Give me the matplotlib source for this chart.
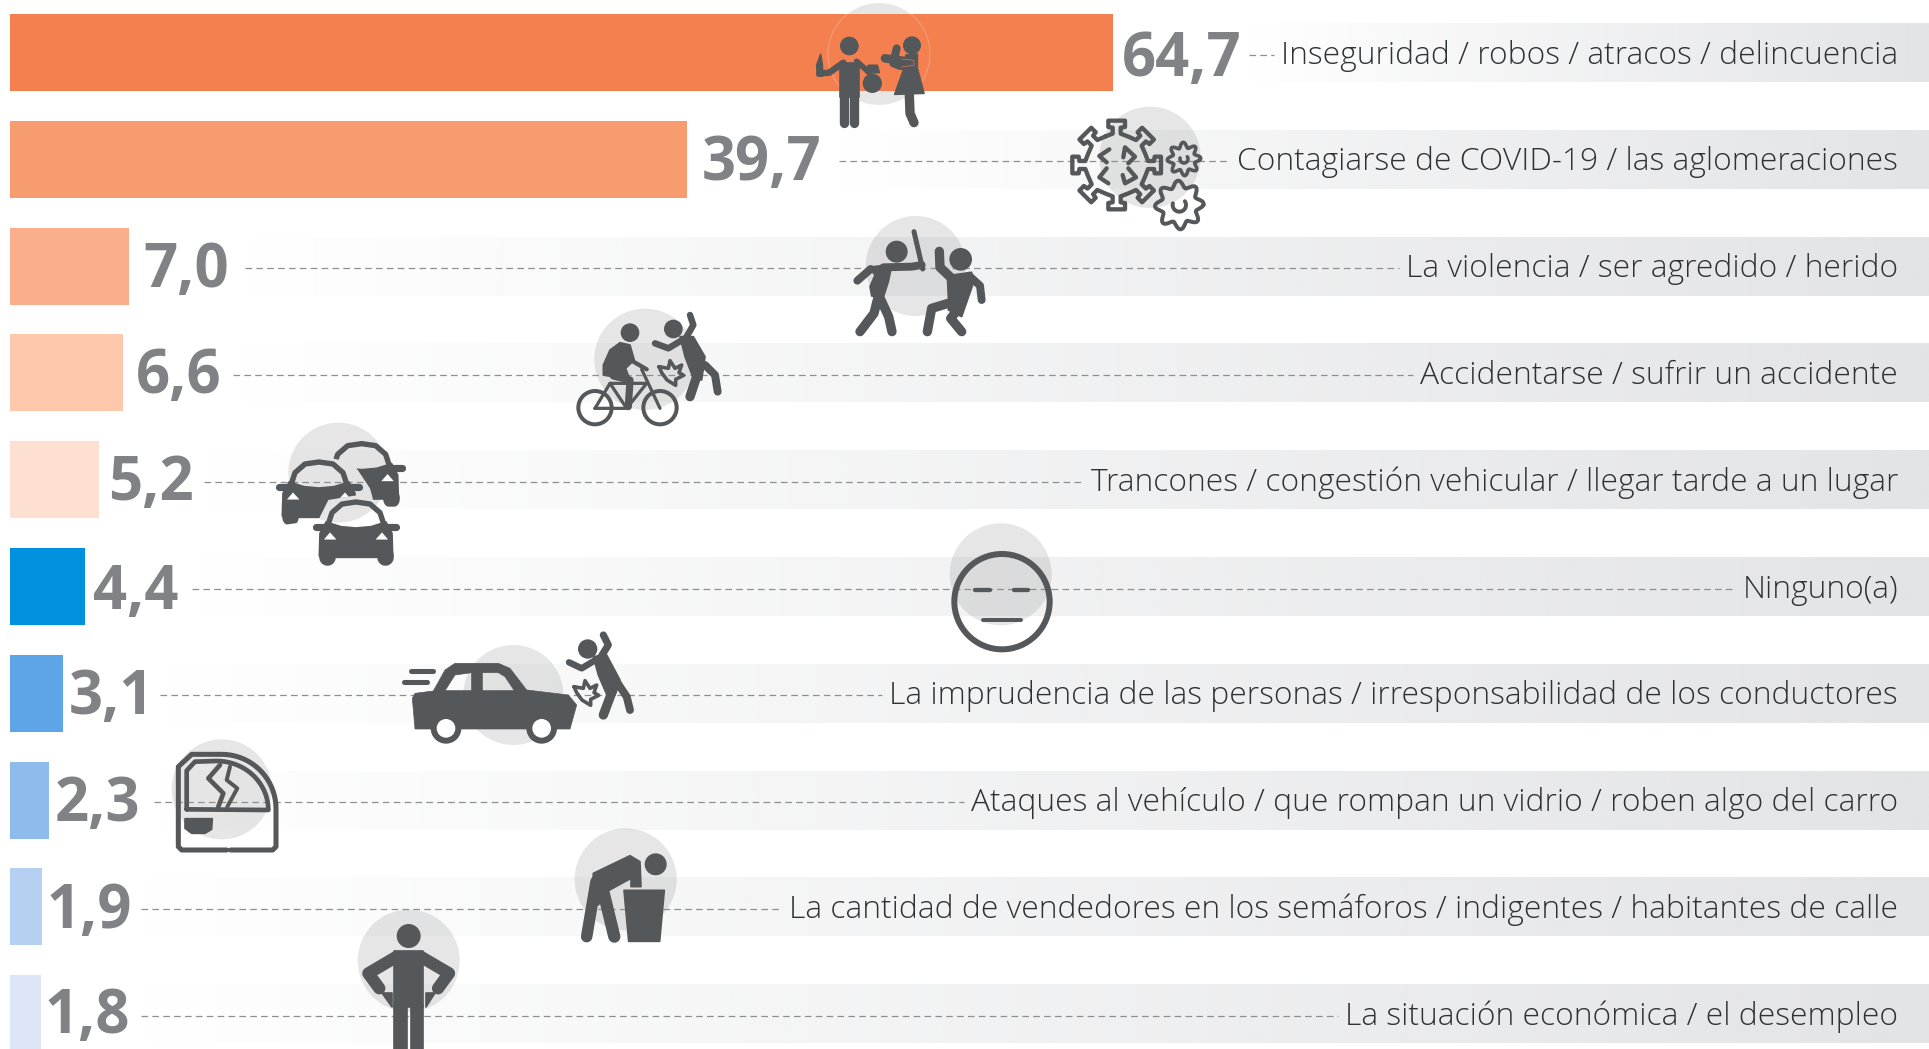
import matplotlib
matplotlib.use('Agg')
import matplotlib.pyplot as plt
import numpy as np
from matplotlib.patches import Circle, PathPatch
from matplotlib.path import Path

# ---- data ----
labels = [
    'Inseguridad / robos / atracos / delincuencia',
    'Contagiarse de COVID-19 / las aglomeraciones',
    'La violencia / ser agredido / herido',
    'Accidentarse / sufrir un accidente',
    'Trancones / congestión vehicular / llegar tarde a un lugar',
    'Ninguno(a)',
    'La imprudencia de las personas / irresponsabilidad de los conductores',
    'Ataques al vehículo / que rompan un vidrio / roben algo del carro',
    'La cantidad de vendedores en los semáforos / indigentes / habitantes de calle',
    'La situación económica / el desempleo',
]
values = [64.7, 39.7, 7.0, 6.6, 5.2, 4.4, 3.1, 2.3, 1.9, 1.8]
colors = ['#f5804f', '#f79c6f', '#fbae8b', '#fdc8ab', '#fee0d0',
          '#0091de', '#5da5e6', '#8fbbec', '#b6d0f1', '#dde6f9']
rows = list(range(len(values)))
leader_start = [1249, 839, 245, 233, 204, 192, 160, 154, 141, 141]
value_dx = [9, 15, 14, 13, 9, 8, 6, 6, 4, 4]
value_dy = [24, 21, 21, 20, 20, 23, 21, 21, 21, 19]

W, H = 1929, 1049
DARK = '#54585a'
PX = 0.72  # px -> pt at dpi 100
X0, PX_UNIT = 10, 17.05
Y0, ROW = 52.5, 106.8

plt.rcParams['font.family'] = ['Open Sans', 'DejaVu Sans']

fig = plt.figure(figsize=(W / 100, H / 100), dpi=100, facecolor='white')


def pixel_axes(z):
    a = fig.add_axes([0, 0, 1, 1], zorder=z)
    a.set_xlim(0, W)
    a.set_ylim(H, 0)
    a.axis('off')
    a.patch.set_alpha(0)
    return a


ax_bg = pixel_axes(0)
ax_bar = fig.add_axes([0, 0, 1, 1], zorder=1)
ax_bar.set_xlim(-X0 / PX_UNIT, (W - X0) / PX_UNIT)
ax_bar.set_ylim((H - Y0) / ROW, -Y0 / ROW)
ax_bar.axis('off')
ax_bar.patch.set_alpha(0)
ax = pixel_axes(2)


class Icon:
    """Pictogram drawn in the 3x coordinates of a crop at (ox, oy)."""

    def __init__(self, ox, oy):
        self.ox, self.oy = ox, oy

    def xy(self, pts):
        p = np.asarray(pts, dtype=float)
        return p / 3 + [self.ox, self.oy]

    def halo(self, x, y, r):
        cx, cy = self.xy([(x, y)])[0]
        ax_bg.add_patch(Circle((cx, cy), r / 3, fc='#58595b', ec='none', alpha=0.15, zorder=2))

    def line(self, pts, lw, color=DARK, cap='round'):
        p = self.xy(pts)
        return ax.plot(p[:, 0], p[:, 1], color=color, lw=lw * 1.08 / 3 * PX, solid_capstyle=cap,
                       solid_joinstyle='round', zorder=5)[0]

    def poly(self, pts, color=DARK, lw=5):
        p = self.xy(pts)
        patch = PathPatch(Path(np.vstack([p, p[0]]), closed=True), fc=color, ec=color,
                          lw=lw / 3 * PX, joinstyle='round', zorder=5)
        ax.add_patch(patch)
        return patch

    def holes(self, outer, inner):
        # even-odd is not available, so the holes run the other way round
        def area(q):
            return 0.5 * np.sum(q[:, 0] * np.roll(q[:, 1], -1) - np.roll(q[:, 0], -1) * q[:, 1])
        verts, codes = [], []
        o = self.xy(outer)
        if area(o) < 0:
            o = o[::-1]
        for q, sign in [(o, 1)] + [(self.xy(i), -1) for i in inner]:
            if np.sign(area(q)) != sign:
                q = q[::-1]
            verts += list(q) + [q[0]]
            codes += [Path.MOVETO] + [Path.LINETO] * (len(q) - 1) + [Path.CLOSEPOLY]
        ax.add_patch(PathPatch(Path(verts, codes), fc=DARK, ec=DARK, lw=0.5,
                               joinstyle='round', zorder=5))

    def dot(self, x, y, r, color=DARK):
        cx, cy = self.xy([(x, y)])[0]
        patch = Circle((cx, cy), r / 3, fc=color, ec='none', zorder=5)
        ax.add_patch(patch)
        return patch

    def ring(self, x, y, r, lw):
        cx, cy = self.xy([(x, y)])[0]
        ax.add_patch(Circle((cx, cy), r / 3, fc='none', ec=DARK, lw=lw / 3 * PX, zorder=5))


def gear(ic, x, y, r0, amp, lw, hook):
    t = np.linspace(0, 2 * np.pi, 240)
    r = r0 + amp * np.cos(8 * t + 0.4)
    ic.line(np.c_[x + r * np.cos(t), y + r * np.sin(t)], lw)
    t = np.linspace(-0.6, 3.4, 30)
    ic.line(np.c_[x + hook * np.cos(t), y + hook * np.sin(t)], lw)


def virus(ic, x, y):
    pts = []
    for k in range(8):
        t = k * np.pi / 4 - np.pi / 2
        u = np.array([np.cos(t), np.sin(t)])
        v = np.array([-u[1], u[0]])
        pts.append(92 * np.array([np.cos(t - 0.39), np.sin(t - 0.39)]))
        for a, b in [(94, -12), (112, -12), (114, -25), (133, -25), (133, 25), (114, 25), (112, 12), (94, 12)]:
            pts.append(a * u + b * v)
    pts.append(pts[0])
    ic.line(np.array(pts) + [x, y], 12)
    for br in ([(148, 148), (118, 168), (140, 187)],
               [(190, 172), (195, 142), (225, 170), (205, 190)],
               [(140, 205), (118, 232), (145, 250)],
               [(205, 205), (228, 232), (195, 250), (188, 225)]):
        ic.line(br, 12)


def car(ic, cx, top, clip=None):
    c = np.array([cx, top])
    parts = []
    for s in (-1, 1):
        parts.append(ic.line(c + [(s * 88, 165), (s * 88, 172)], 46))
        parts.append(ic.line(c + [(s * 120, 80), (s * 95, 80)], 20))
    parts.append(ic.line(c + [(-85, 78), (-72, 38), (-42, 12), (0, 6), (42, 12), (72, 38), (85, 78)], 15))
    parts.append(ic.poly(c + [(-90, 66), (-45, 80), (0, 84), (45, 80), (90, 66), (108, 100), (110, 168),
                              (70, 172), (-70, 172), (-110, 168), (-108, 100)]))
    parts.append(ic.poly(c + [(-95, 118), (-60, 118), (-78, 98)], color='white', lw=1))
    parts.append(ic.poly(c + [(95, 118), (60, 118), (78, 98)], color='white', lw=1))
    if clip is not None:
        q = ic.xy(clip)
        cp = Path(np.vstack([q, q[0]]), closed=True)
        for part in parts:
            part.set_clip_path(cp, ax.transData)


def star(ic, dx, dy, lw):
    ic.line(np.array([(282, 200), (310, 205), (315, 182), (330, 205), (350, 195), (342, 218), (356, 226),
                      (332, 238), (332, 256), (306, 240), (290, 218), (282, 200)]) + [dx, dy], lw)


def draw_icons():
    # robbery
    ic = Icon(800, 0)
    ic.halo(237, 162, 153)
    ic.dot(148, 138, 28)
    ic.poly([(120, 188), (176, 188), (176, 290), (120, 290)])
    ic.line([(133, 285), (133, 368)], 26)
    ic.line([(163, 285), (163, 368)], 26)
    ic.line([(130, 188), (88, 218), (58, 220)], 18)
    ic.poly([(62, 163), (67, 195), (68, 228), (52, 228), (50, 195)])
    ic.line([(170, 184), (208, 218)], 16)
    ic.dot(217, 250, 29)
    ic.poly([(205, 196), (232, 196), (238, 218), (198, 218)])
    ic.dot(336, 136, 27)
    ic.poly([(318, 165), (352, 162), (352, 205), (372, 280), (284, 283), (312, 205)])
    ic.line([(328, 285), (330, 340), (342, 368)], 26)
    ic.line([(255, 175), (335, 186)], 24)
    ic.line([(290, 145), (280, 190), (300, 198), (335, 198)], 22)
    ic.line([(305, 177), (342, 181), (342, 196), (305, 201)], 1.5, color=colors[0])

    # covid
    ic = Icon(1060, 100)
    ic.halo(270, 172, 152)
    virus(ic, 170, 195)
    gear(ic, 372, 177, 42, 8, 10, 12)
    gear(ic, 358, 315, 63, 10, 11, 20)

    # fight
    ic = Icon(840, 210)
    ic.halo(227, 168, 150)
    ic.dot(170, 125, 33)
    ic.poly([(85, 172), (140, 165), (152, 182), (145, 215), (130, 262), (95, 258), (90, 230), (105, 195)])
    ic.line([(130, 172), (215, 170), (245, 165)], 22)
    ic.line([(92, 177), (52, 212)], 22)
    ic.line([(222, 65), (248, 177)], 14)
    ic.line([(115, 258), (102, 310), (60, 365)], 26)
    ic.line([(122, 268), (146, 320), (156, 365)], 26)
    ic.dot(362, 148, 34)
    ic.line([(298, 124), (300, 172), (335, 205)], 26)
    ic.poly([(322, 197), (395, 187), (398, 225), (365, 320), (325, 300), (325, 262)])
    ic.line([(387, 197), (420, 227), (425, 270)], 22)
    ic.line([(325, 280), (275, 295), (262, 365)], 26)
    ic.line([(352, 300), (332, 325), (365, 365)], 26)

    # bicycle
    ic = Icon(565, 300)
    ic.halo(240, 178, 152)
    ic.dot(195, 98, 28)
    ic.poly([(135, 150), (165, 128), (195, 135), (208, 180), (182, 205), (195, 240), (115, 225), (115, 195)])
    ic.line([(200, 182), (245, 208)], 12)
    ic.line([(145, 228), (195, 240), (190, 320)], 20)
    ic.ring(90, 323, 50, 12)
    ic.ring(285, 323, 50, 12)
    ic.line([(90, 325), (135, 250), (245, 250), (185, 325), (90, 325)], 9)
    ic.line([(135, 250), (185, 325)], 9)
    ic.line([(230, 208), (285, 325)], 9)
    ic.dot(325, 87, 28)
    ic.line([(375, 45), (385, 75), (365, 110)], 18)
    ic.line([(270, 130), (310, 145), (360, 115)], 18)
    ic.poly([(345, 110), (385, 110), (420, 170), (410, 240), (385, 235), (360, 170)])
    ic.line([(405, 200), (375, 290)], 26)
    ic.line([(420, 195), (450, 225), (458, 275)], 22)
    star(ic, 0, 0, 10)

    # traffic
    ic = Icon(0, 420)
    ic.halo(1015, 158, 150)
    car(ic, 1085, 65, clip=[(985, 50), (1225, 50), (1225, 260), (1125, 260), (1110, 205), (1060, 130), (985, 112)])
    car(ic, 957, 120, clip=[(815, 100), (1105, 100), (1105, 220), (985, 240), (955, 300), (815, 320)])
    car(ic, 1068, 240)

    # none
    ic = Icon(930, 520)
    ic.halo(212, 163, 153)
    ic.ring(216, 245, 143, 18)
    ic.line([(136, 211), (180, 211)], 12)
    ic.line([(251, 211), (295, 211)], 12)
    ic.line([(158, 300), (273, 300)], 11)

    # car and pedestrian
    ic = Icon(395, 625)
    ic.halo(355, 210, 150)
    ic.line([(48, 137), (115, 137)], 14)
    ic.line([(28, 170), (97, 170)], 14)
    ic.holes([(60, 205), (115, 198), (150, 135), (180, 115), (310, 115), (345, 130), (395, 195), (520, 210),
              (545, 240), (525, 312), (60, 312), (52, 220)],
             [[(150, 197), (180, 150), (230, 143), (230, 197)],
              [(262, 143), (310, 143), (330, 155), (358, 197), (262, 197)]])
    for x in (153, 440):
        ic.dot(x, 310, 46)
        ic.dot(x, 310, 28, color='white')
    ic.dot(578, 72, 29)
    ic.line([(625, 30), (640, 60), (615, 100)], 20)
    ic.line([(522, 112), (560, 130), (610, 100)], 18)
    ic.poly([(595, 95), (635, 90), (675, 165), (660, 210), (640, 220), (610, 150)])
    ic.line([(655, 190), (625, 270)], 26)
    ic.line([(665, 170), (695, 215), (705, 255)], 22)
    star(ic, 255, -15, 10)

    # broken window
    ic = Icon(0, 730)
    ic.halo(665, 178, 150)
    arc = np.linspace(-np.pi / 2, 0, 20)
    ic.line([(680, 360), (545, 360), (535, 350), (535, 110), (575, 73), (665, 73)]
            + [(665 + 163 * np.cos(a), 236 + 163 * np.sin(a)) for a in arc]
            + [(828, 350), (818, 360), (692, 360)], 14)
    ic.line([(560, 238), (560, 122), (585, 95), (650, 93)]
            + [(650 + 155 * np.cos(a), 240 + 147 * np.sin(a)) for a in arc]
            + [(560, 238)], 13)
    ic.line([(660, 105), (625, 145), (670, 190), (655, 230)], 13)
    ic.line([(690, 110), (680, 150), (712, 175), (682, 230)], 11)
    ic.poly([(555, 266), (637, 266), (635, 298), (615, 310), (575, 310), (555, 295)])

    # beggar at the bin
    ic = Icon(560, 825)
    ic.halo(197, 163, 153)
    ic.dot(287, 118, 33)
    ic.poly([(100, 145), (210, 92), (240, 110), (243, 185), (213, 185), (213, 160), (140, 200), (115, 240), (95, 230)])
    ic.line([(108, 170), (80, 335)], 32)
    ic.line([(130, 200), (163, 335)], 34)
    ic.poly([(192, 196), (313, 196), (299, 349), (206, 349)])

    # unemployed
    ic = Icon(0, 730)
    ic.halo(1226, 692, 153)
    ic.dot(1226, 618, 36)
    ic.poly([(1182, 662), (1270, 662), (1270, 830), (1182, 830)])
    ic.poly([(1182, 825), (1220, 825), (1220, 960), (1182, 960)])
    ic.poly([(1232, 825), (1270, 825), (1270, 960), (1232, 960)])
    ic.line([(1190, 680), (1105, 730), (1138, 775)], 34)
    ic.line([(1262, 680), (1347, 730), (1314, 775)], 34)
    ic.poly([(1147, 788), (1175, 788), (1175, 830)])
    ic.poly([(1305, 788), (1277, 788), (1277, 830)])


# gradient bands behind everything
for row, start in zip(rows, leader_start):
    yc = Y0 + row * ROW
    img = np.ones((1, 256, 4))
    img[..., 0:3] = np.array([0xe3, 0xe4, 0xe6]) / 255
    img[..., 3] = np.linspace(0, 1, 256)
    ax_bg.imshow(img, extent=(start, W, yc + 29.5, yc - 29.5), aspect='auto', zorder=1,
                 interpolation='bilinear')
ax_bg.set_xlim(0, W)
ax_bg.set_ylim(H, 0)

# bars and value labels
ax_bar.barh(rows, values, height=77 / ROW, color=colors, edgecolor='none')
for row, val, dx, dy in zip(rows, values, value_dx, value_dy):
    ax_bar.annotate(f'{val:.1f}'.replace('.', ','), xy=(val, row), xytext=(dx * PX, -dy * PX),
                    textcoords='offset points', ha='left', va='baseline', fontsize=43,
                    fontweight='bold', color='#808285', annotation_clip=False)

# pale outline the first circle leaves on the orange bar
ax.add_patch(Circle((879, 54), 51, fc='none', ec=(1, 1, 1, 0.3), lw=0.6, zorder=3))

# category names and leaders
fig.canvas.draw()
renderer = fig.canvas.get_renderer()
for row, name, start in zip(rows, labels, leader_start):
    yc = Y0 + row * ROW
    t = ax.text(1898, yc + 11, name, ha='right', va='baseline', fontsize=22.85,
                fontweight='light', color='#303133', zorder=6)
    left = ax.transData.inverted().transform(t.get_window_extent(renderer))[0, 0]
    ax.plot([start, left - 7], [yc + 2, yc + 2], color='#8e8f91', lw=0.9,
            linestyle=(0, (5.3, 3.4)), zorder=4)

draw_icons()

fig.savefig('out.png', dpi=100, facecolor='white')
